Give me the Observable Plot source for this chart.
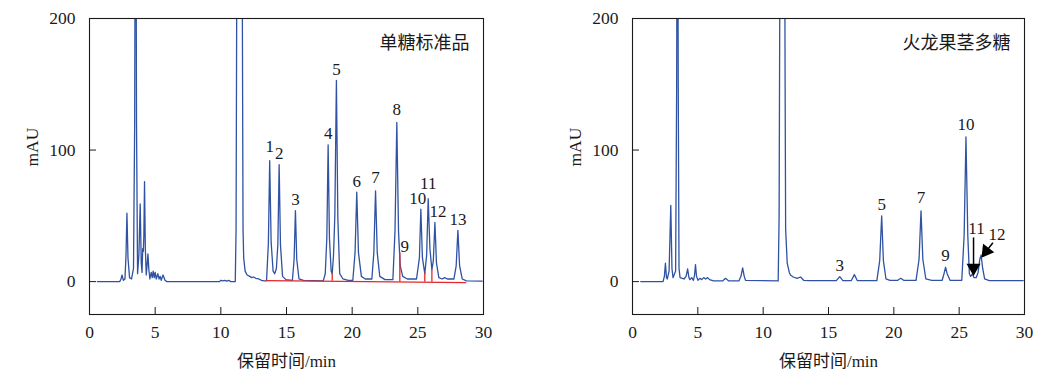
<!DOCTYPE html>
<html>
<head>
<meta charset="utf-8">
<script src="https://cdn.jsdelivr.net/npm/d3@7"></script>
<script src="https://cdn.jsdelivr.net/npm/@observablehq/plot@0.6"></script>
<style>
  html, body { margin: 0; padding: 0; background: #fff; }
  #wrap { position: relative; width: 1047px; height: 374px; overflow: hidden; }
  #wrap > svg { position: absolute; top: 0; }
</style>
</head>
<body>
<div id="wrap"></div>
<script>
// ---------- axis ticks ----------
const xTicks = [0, 5, 10, 15, 20, 25, 30];
const yTicks = [0, 100, 200];
const xLabel = "保留时间/min";
const yLabel = "mAU";

// ---------- panel 1: 单糖标准品 (time min, mAU) ----------
const stdTitle = "单糖标准品";
const stdTrace = [
  [0.6,0],[2.3,0],[2.4,2],[2.48,5],[2.58,1],[2.7,2],[2.78,20],[2.85,52],[2.93,18],[3.05,3],[3.2,2],
  [3.35,10],[3.44,120],[3.51,420],[3.58,120],[3.66,6],[3.76,20],[3.86,59],[3.94,14],[4.0,7],[4.05,25],
  [4.1,23],[4.14,35],[4.19,76],[4.25,26],[4.32,5],[4.38,12],[4.45,21],[4.52,9],[4.6,2],[4.7,7],[4.78,3],
  [4.85,8],[4.93,3],[5.0,7],[5.08,2],[5.2,6],[5.3,2],[5.38,4],[5.46,1],[5.6,5],[5.75,1],[5.9,0],[9.9,0],
  [10.0,1],[10.15,0.5],[10.3,1],[10.45,0.4],[10.6,1],[10.75,0],[11.1,0],[11.16,40],[11.22,250],[11.3,420],
  [11.55,420],[11.64,200],[11.69,40],[11.74,18],[11.85,8],[12.0,5],[12.2,4],[12.35,3],[12.5,3.5],[12.65,2.5],
  [12.9,2],[13.1,1],[13.3,0.5],
  [13.48,0.6],[13.62,29],[13.72,92],[13.83,30],[13.98,8],[14.1,6],[14.23,10],[14.34,28],[14.44,89],[14.54,28],
  [14.7,4],[14.95,1.5],[15.45,1],[15.58,17],[15.68,54],[15.78,17],[15.95,2],[16.3,1],[17.8,0.5],[17.95,6],
  [18.07,33],[18.17,104],[18.27,33],[18.4,8],[18.48,6],[18.58,20],[18.68,50],[18.8,153],[18.91,48],[19.05,6],
  [19.3,2],[19.7,1],[20.05,1],[20.22,22],[20.35,68],[20.48,22],[20.7,4],[21.0,2],[21.5,2],[21.65,22],[21.78,69],
  [21.91,22],[22.1,4],[22.5,1.5],[23.1,1.5],[23.26,38],[23.4,121],[23.53,38],[23.66,12],[23.85,4],[24.2,2],
  [24.9,2],[25.12,18],[25.23,55],[25.35,18],[25.53,6],[25.67,20],[25.79,63],[25.92,25],[26.07,9],[26.18,16],
  [26.3,45],[26.42,14],[26.6,3],[26.85,2],[27.05,3],[27.25,2],[27.75,2],[27.92,12],[28.05,39],[28.18,12],
  [28.38,2],[28.7,0.5],[29.9,0.3]
];
const stdBaseT = [13.47, 28.64];
const stdBaseV = [0.7, -0.8];
const stdMarkT = [18.48, 23.63, 25.53, 26.07];
const stdMarkLow = [0.2, -0.3, -0.5, -0.5];
const stdMarkHigh = [6, 21.7, 6.5, 9];
const stdPeakNames = ["1","2","3","4","5","6","7","8","9","10","11","12","13"];
const stdPeakT = [13.72, 14.44, 15.68, 18.17, 18.8, 20.35, 21.78, 23.4, 23.63, 25.23, 25.79, 26.3, 28.05];
const stdPeakV = [92, 89, 54, 104, 153, 68, 69, 121, 21.7, 55, 63, 45, 39];

// ---------- panel 2: 火龙果茎多糖 ----------
const pitTitle = "火龙果茎多糖";
const pitTrace = [
  [0.63,0],[2.34,0],[2.44,4],[2.52,14],[2.6,3],[2.66,2],[2.8,8],[2.93,58],[3.02,10],[3.1,3],[3.3,8],
  [3.38,150],[3.44,420],[3.5,150],[3.56,10],[3.64,3],[3.94,2],[4.1,4],[4.22,9.6],[4.32,3],[4.4,1.5],[4.53,3],
  [4.66,1],[4.75,5],[4.82,12.9],[4.9,4],[5.01,1],[5.15,2.5],[5.3,1.5],[5.45,3],[5.6,2],[5.75,3],[5.9,1.5],
  [6.2,0.5],[6.9,0.5],[7.0,1.5],[7.13,2.5],[7.25,1.5],[7.36,0.5],[8.14,0.5],[8.3,4],[8.43,10.4],[8.55,4],
  [8.65,1],[11.15,0.5],[11.22,50],[11.3,300],[11.4,420],[11.6,420],[11.68,150],[11.72,40],[11.84,14],[12.0,7],
  [12.09,5],[12.3,3.5],[12.6,2.5],[12.86,3.5],[13.1,1],[13.5,0.8],[15.6,0.8],[15.86,3.8],[16.1,0.8],[16.75,0.8],
  [16.98,5.3],[17.2,0.8],[18.7,0.8],[18.92,16],[19.07,50],[19.2,16],[19.4,2],[19.7,1],[20.3,1],[20.53,2.5],
  [20.75,1],[21.7,1],[21.93,17],[22.08,53.8],[22.22,17],[22.45,2],[22.9,1],[23.7,1],[23.84,6],[23.96,10.9],
  [24.08,6],[24.3,1],[25.2,1],[25.38,35],[25.52,110],[25.66,35],[25.78,6],[25.88,4],[26.02,5.8],[26.14,3],
  [26.3,3],[26.45,7],[26.58,17],[26.68,20.2],[26.8,10],[26.95,2],[27.3,0.8],[29.9,0.8]
];
const pitPeakNames = ["3","5","7","9","10"];
const pitPeakT = [15.86, 19.07, 22.08, 23.96, 25.52];
const pitPeakV = [3.8, 50, 53.8, 10.9, 110];
const pitArrowNames = ["11","12"];
const pitArrowT1 = [26.1, 27.58];
const pitArrowV1 = [33.6, 29.5];
const pitArrowT2 = [26.1, 26.86];
const pitArrowV2 = [7, 20.3];

// ---------- styling ----------
const FONT = "'Liberation Serif','Times New Roman','Noto Sans CJK SC',serif";
const BLUE = "#2f52a3";
const RED = "#e5262b";
const INK = "#1a1a1a";

function panel({title, trace, extras, marginLeft, marginRight, width}) {
  return Plot.plot({
    width, height: 374,
    marginTop: 18, marginBottom: 60, marginLeft, marginRight,
    x: {domain: [0, 30]},
    y: {domain: [-25, 200]},
    style: {fontFamily: FONT, color: INK, background: "transparent", overflow: "visible"},
    marks: [
      Plot.line(trace, {x: d => d[0], y: d => d[1], stroke: BLUE, strokeWidth: 1.3, clip: true}),
      ...extras,
      Plot.frame({stroke: INK, strokeWidth: 1.1}),
      Plot.axisX({ticks: xTicks, tickSize: -7, tickPadding: 18, label: null, fontSize: 17.5, fontFamily: FONT}),
      Plot.axisY({ticks: yTicks, tickSize: -7, tickPadding: 21, label: null, fontSize: 17.5, fontFamily: FONT}),
      Plot.text([xLabel], {frameAnchor: "bottom", dy: 47, text: d => d, fontSize: 17, fontFamily: FONT, lineAnchor: "middle"}),
      Plot.text([yLabel], {frameAnchor: "left", dx: -57, rotate: -90, text: d => d, fontSize: 17.5, fontFamily: FONT, lineAnchor: "middle"}),
      Plot.text([title], {frameAnchor: "top-right", dx: -14, dy: 25, text: d => d, fontSize: 18, fontFamily: FONT, textAnchor: "end", lineAnchor: "middle"})
    ]
  });
}

const stdIdx = d3.range(stdPeakNames.length);
const labelDx = {"9": 5, "10": -3, "12": 3};
const labelDy = {"9": -7, "11": -15, "7": -13, "8": -13, "1": -14};
const stdExtras = [
  Plot.line(stdBaseT.map((t, i) => [t, stdBaseV[i]]), {x: d => d[0], y: d => d[1], stroke: RED, strokeWidth: 1.3}),
  Plot.ruleX(stdMarkT.map((t, i) => i), {x: i => stdMarkT[i], y1: i => stdMarkLow[i], y2: i => stdMarkHigh[i], stroke: RED, strokeWidth: 1.3}),
  ...stdIdx.map(i => Plot.text([i], {
    x: j => stdPeakT[j], y: j => stdPeakV[j], text: j => stdPeakNames[j],
    dx: labelDx[stdPeakNames[i]] || 0, dy: labelDy[stdPeakNames[i]] || -11,
    fontSize: 17, fontFamily: FONT, lineAnchor: "middle", fill: INK
  }))
];

const pitIdx = d3.range(pitPeakNames.length);
const pitDy = {"7": -13, "9": -12, "10": -12};
const arrIdx = d3.range(pitArrowNames.length);
const arrDx = [3, 4];
const arrDy = [-9, -8];
// filled arrow heads: rotation (deg) and pull-back offset from the tip (px)
const headRotate = [180, 217];
const headDx = [0, 2.8];
const headDy = [-4.5, -3.6];
const pitExtras = [
  ...pitIdx.map(i => Plot.text([i], {
    x: j => pitPeakT[j], y: j => pitPeakV[j], text: j => pitPeakNames[j],
    dy: pitDy[pitPeakNames[i]] || -11, fontSize: 17, fontFamily: FONT, lineAnchor: "middle", fill: INK
  })),
  Plot.link(arrIdx, {x1: i => pitArrowT1[i], y1: i => pitArrowV1[i], x2: i => pitArrowT2[i], y2: i => pitArrowV2[i],
    stroke: "#000", strokeWidth: 1.5}),
  ...arrIdx.map(i => Plot.dot([i], {
    x: j => pitArrowT2[j], y: j => pitArrowV2[j], symbol: "triangle", r: 5.2, rotate: headRotate[i],
    dx: headDx[i], dy: headDy[i], fill: "#000", stroke: "none"
  })),
  ...arrIdx.map(i => Plot.text([i], {
    x: j => pitArrowT1[j], y: j => pitArrowV1[j], text: j => pitArrowNames[j],
    dx: arrDx[i], dy: arrDy[i], fontSize: 17, fontFamily: FONT, lineAnchor: "middle", fill: INK
  }))
];

const wrap = document.getElementById("wrap");
const left = panel({title: stdTitle, trace: stdTrace, extras: stdExtras, width: 523, marginLeft: 89, marginRight: 40});
left.style.left = "0px";
const right = panel({title: pitTitle, trace: pitTrace, extras: pitExtras, width: 524, marginLeft: 109, marginRight: 23});
right.style.left = "523px";
wrap.appendChild(left);
wrap.appendChild(right);
</script>
</body>
</html>
